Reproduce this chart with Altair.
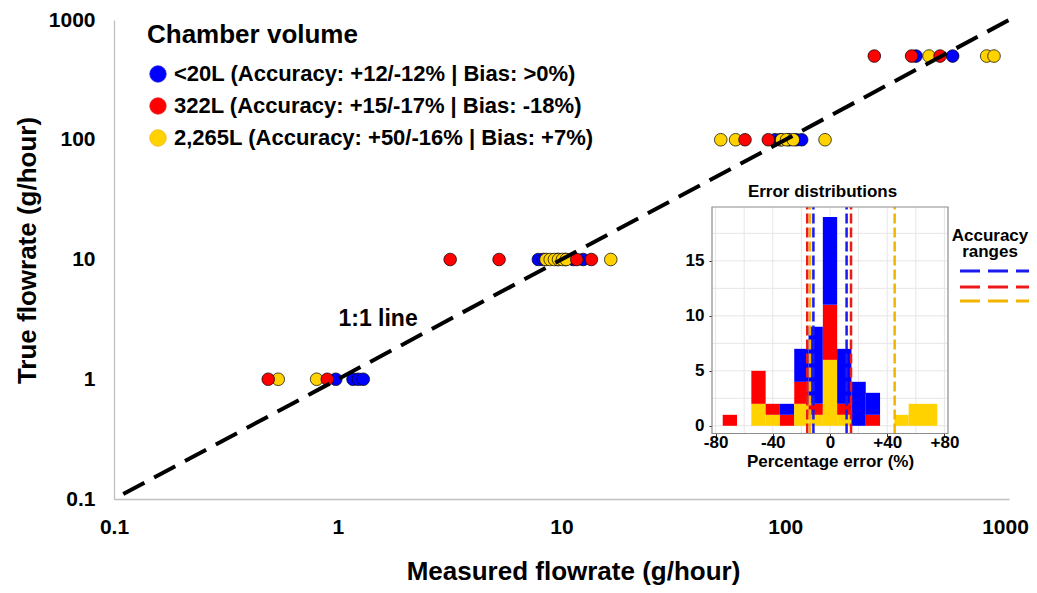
import altair as alt
import pandas as pd

FONT = "Liberation Sans"

# ---------------- data ----------------
groups = ["<20L (Accuracy: +12/-12% | Bias: >0%)",
          "322L (Accuracy: +15/-17% | Bias: -18%)",
          "2,265L (Accuracy: +50/-16% | Bias: +7%)"]
group_colors = ["#0000ff", "#ff0000", "#ffd200"]
line_colors = ["#1a1aee", "#ee1a1a", "#f2b400"]

blue_measured = [0.98, 1.17, 1.235, 1.30, 7.88, 8.3, 9.6, 10.4, 11.3, 12.5,
                 90.0, 95.0, 104.0, 112.0, 118.4, 384, 560]
blue_true = [1, 1, 1, 1, 10, 10, 10, 10, 10, 10,
             100, 100, 100, 100, 100, 500, 500]
yellow_measured = [0.542, 0.805, 8.53, 8.9, 9.3, 9.7, 10.1, 10.5, 16.6,
                   51.5, 60.0, 96.4, 101.4, 108.6, 150.6, 439, 795, 857]
yellow_true = [1, 1, 10, 10, 10, 10, 10, 10, 10,
               100, 100, 100, 100, 100, 100, 500, 500, 500]
red_measured = [0.489, 0.898, 3.18, 5.26, 11.7, 13.6, 66.1, 84.0, 250, 367, 492]
red_true = [1, 1, 10, 10, 10, 10, 100, 100, 500, 500, 500]

one_to_one = [0.11, 1000]

# histogram of percentage error (bin width 10)
bin_centers = [-70, -60, -50, -40, -30, -20, -10, 0, 10, 20, 30, 40, 50, 60, 70]
yellow_counts = [0, 0, 2, 1, 0, 2, 1, 6, 1, 0, 0, 0, 1, 2, 2]
red_counts = [1, 0, 3, 1, 1, 2, 1, 5, 1, 0, 1, 0, 0, 0, 0]
blue_counts = [0, 0, 0, 0, 1, 3, 7, 8, 5, 4, 2, 0, 0, 0, 0]
bin_width = 10

# accuracy range lines (percentage error)
blue_range = [-11.6, 11.6]
red_range = [-15.9, 14.7]
yellow_range = [-14.0, 45.2]

inset_x_ticks = [-80, -40, 0, 40, 80]
inset_y_ticks = [0, 5, 10, 15]
inset_xgrid = [-80, -60, -40, -20, 0, 20, 40, 60, 80]
inset_ygrid = [0, 2.5, 5, 7.5, 10, 12.5, 15, 17.5]
inset_xdom = [-82.5, 82.5]
inset_ydom = [-0.7, 19.9]

# ---------------- tables ----------------
pts = pd.concat([
    pd.DataFrame({"measured": blue_measured, "true": blue_true, "group": groups[0]}),
    pd.DataFrame({"measured": yellow_measured, "true": yellow_true, "group": groups[2]}),
    pd.DataFrame({"measured": red_measured, "true": red_true, "group": groups[1]}),
], ignore_index=True)
pts["order"] = range(len(pts))

line_df = pd.DataFrame({"lx": one_to_one, "ly": one_to_one})
lab_df = pd.DataFrame({"lx": [1.514], "ly": [3.21], "txt": ["1:1 line"]})

rows = []
for i, c in enumerate(bin_centers):
    base = 0
    for g, cnt in ((groups[2], yellow_counts[i]), (groups[1], red_counts[i]), (groups[0], blue_counts[i])):
        if cnt > 0:
            rows.append({"b0": c - bin_width / 2, "b1": c + bin_width / 2,
                         "c0": base, "c1": base + cnt, "group": g})
            base += cnt
hist = pd.DataFrame(rows)

rng = pd.DataFrame({"err": blue_range + red_range + yellow_range,
                    "group": [groups[0]] * 2 + [groups[1]] * 2 + [groups[2]] * 2})
frame = pd.DataFrame({"x0": [inset_xdom[0]], "x1": [inset_xdom[1]],
                      "y0": [inset_ydom[0]], "y1": [inset_ydom[1]]})
xgrid = pd.DataFrame({"gx": inset_xgrid})
ygrid = pd.DataFrame({"gy": inset_ygrid})

# ---------------- main scatter ----------------
W, H = 895, 479
logx = alt.Scale(type="log", domain=[0.1, 1000], nice=False)
logy = alt.Scale(type="log", domain=[0.1, 1000], nice=False)
xax = alt.Axis(values=[0.1, 1, 10, 100, 1000], format="~g",
               title="Measured flowrate (g/hour)", titleFontSize=26, titleFont=FONT,
               titleFontWeight="bold", titleColor="black", titlePadding=21, titleX=459,
               labelFontSize=21, labelFont=FONT, labelFontWeight="bold", labelColor="black",
               labelPadding=17, ticks=False, tickSize=0, grid=False,
               labelOffset={"condition": {"test": "datum.value >= 1000", "value": -4}, "value": 0},
               domainColor="#c0c0c0", domainWidth=1.3, labelFlush=False, labelOverlap=False)
yax = alt.Axis(values=[0.1, 1, 10, 100, 1000], format="~g",
               title="True flowrate (g/hour)", titleFontSize=26, titleFont=FONT,
               titleFontWeight="bold", titleColor="black", titlePadding=8, titleY=230,
               labelFontSize=21, labelFont=FONT, labelFontWeight="bold", labelColor="black",
               labelPadding=19, ticks=False, tickSize=0, grid=False,
               domainColor="#c0c0c0", domainWidth=1.3, labelFlush=False, labelOverlap=False)

legend = alt.Legend(orient="none", legendX=33, legendY=2, padding=0,
                    title="Chamber volume", titleFontSize=26, titleFont=FONT,
                    titleFontWeight="bold", titleColor="black", titlePadding=15,
                    titleLimit=600,
                    labelFontSize=22, labelFont=FONT, labelFontWeight="bold",
                    labelColor="black", labelLimit=700, labelOffset=5, rowPadding=10,
                    symbolType="circle", symbolSize=270, symbolStrokeColor="black",
                    symbolStrokeWidth=0.8)

points = alt.Chart(pts).mark_circle(size=160, opacity=1, stroke="black", strokeWidth=0.7).encode(
    x=alt.X("measured:Q", scale=logx, axis=xax),
    y=alt.Y("true:Q", scale=logy, axis=yax),
    color=alt.Color("group:N", scale=alt.Scale(domain=groups, range=group_colors),
                    legend=legend, sort=groups),
    order=alt.Order("order:Q"),
)

ident = alt.Chart(line_df).mark_line(color="black", strokeWidth=4, strokeDash=[24, 11],
                                     strokeCap="butt").encode(
    x=alt.X("lx:Q", scale=logx, axis=xax),
    y=alt.Y("ly:Q", scale=logy, axis=yax),
)

ident_lab = alt.Chart(lab_df).mark_text(font=FONT, fontSize=23, fontWeight="bold",
                                        color="black").encode(
    x=alt.X("lx:Q", scale=logx, axis=xax),
    y=alt.Y("ly:Q", scale=logy, axis=yax),
    text="txt:N",
)

main = alt.layer(points, ident, ident_lab)

# ---------------- inset histogram ----------------
ix = alt.Scale(domain=inset_xdom, range=[598, 834], nice=False, zero=False)
iy = alt.Scale(domain=inset_ydom, range=[413.5, 187], nice=False, zero=False)
ixax = alt.Axis(orient="bottom", offset=-(H - 413.5), values=inset_x_ticks,
                labelExpr="datum.value > 0 ? '+' + datum.value : (datum.value < 0 ? '-' + abs(datum.value) : '0')",
                title="Percentage error (%)", titleFont=FONT, titleFontSize=17,
                titleFontWeight="bold", titleColor="black", titlePadding=3,
                labelFont=FONT, labelFontSize=17, labelFontWeight="bold", labelColor="black",
                labelPadding=-2, tickSize=3, tickColor="#333333", domain=False, grid=False,
                labelFlush=False, labelOverlap=False)
iyax = alt.Axis(orient="left", offset=-598, values=inset_y_ticks, title=None,
                labelFont=FONT, labelFontSize=17, labelFontWeight="bold", labelColor="black",
                labelPadding=5, tickSize=3, tickColor="#333333", domain=False, grid=False,
                labelFlush=False, labelOverlap=False)

frame_bg = alt.Chart(frame).mark_rect(fill="white").encode(
    x=alt.X("x0:Q", scale=ix, axis=ixax), x2="x1:Q",
    y=alt.Y("y0:Q", scale=iy, axis=iyax), y2="y1:Q")

vgrid = alt.Chart(xgrid).mark_rule(color="#e6e6e6", strokeWidth=1).encode(
    x=alt.X("gx:Q", scale=ix, axis=ixax),
    y=alt.Y(datum=inset_ydom[0], scale=iy, axis=iyax), y2=alt.Y2(datum=inset_ydom[1]))
hgrid = alt.Chart(ygrid).mark_rule(color="#e6e6e6", strokeWidth=1).encode(
    y=alt.Y("gy:Q", scale=iy, axis=iyax),
    x=alt.X(datum=inset_xdom[0], scale=ix, axis=ixax), x2=alt.X2(datum=inset_xdom[1]))

bars = alt.Chart(hist).mark_rect().encode(
    x=alt.X("b0:Q", scale=ix, axis=ixax), x2="b1:Q",
    y=alt.Y("c0:Q", scale=iy, axis=iyax), y2="c1:Q",
    fill=alt.Fill("group:N", scale=alt.Scale(domain=groups, range=group_colors), legend=None),
)

ranges = alt.Chart(rng).mark_rule(strokeWidth=2.5, strokeDash=[10, 4]).encode(
    x=alt.X("err:Q", scale=ix, axis=ixax),
    y=alt.Y(datum=inset_ydom[0], scale=iy, axis=iyax), y2=alt.Y2(datum=inset_ydom[1]),
    stroke=alt.Stroke("group:N", scale=alt.Scale(domain=groups, range=line_colors), legend=None),
)

frame_border = alt.Chart(frame).mark_rect(fill=None, fillOpacity=0, stroke="#8c8c8c",
                                          strokeWidth=1.2).encode(
    x=alt.X("x0:Q", scale=ix, axis=ixax), x2="x1:Q",
    y=alt.Y("y0:Q", scale=iy, axis=iyax), y2="y1:Q")

inset = alt.layer(frame_bg, vgrid, hgrid, bars, ranges, frame_border)

# ---------------- inset title and accuracy legend ----------------
deco = pd.DataFrame({"k": [0]})
inset_title = alt.Chart(deco).mark_text(text="Error distributions", font=FONT, fontSize=17,
                                        fontWeight="bold", color="black").encode(
    x=alt.value(708.5), y=alt.value(172))
acc1 = alt.Chart(deco).mark_text(text="Accuracy", font=FONT, fontSize=17, baseline="alphabetic",
                                 fontWeight="bold", color="black").encode(
    x=alt.value(876), y=alt.value(221))
acc2 = alt.Chart(deco).mark_text(text="ranges", font=FONT, fontSize=17, baseline="alphabetic",
                                 fontWeight="bold", color="black").encode(
    x=alt.value(876), y=alt.value(237))
acc_lines = [
    alt.Chart(deco).mark_rule(color=col, strokeWidth=3, strokeDash=[20, 8]).encode(
        x=alt.value(846), x2=alt.value(915), y=alt.value(yy))
    for col, yy in zip(line_colors, [251, 267, 281])
]
deco_layer = alt.layer(inset_title, acc1, acc2, *acc_lines)

chart = alt.layer(main, inset, deco_layer).resolve_scale(
    x="independent", y="independent"
).properties(
    width=W, height=H,
    autosize=alt.AutoSizeParams(type="none"),
    padding={"left": 106, "top": 12, "right": 20, "bottom": 86},
    background="white",
).configure_view(stroke=None)

chart.save("out.html", embed_options={"renderer": "svg", "actions": False})
